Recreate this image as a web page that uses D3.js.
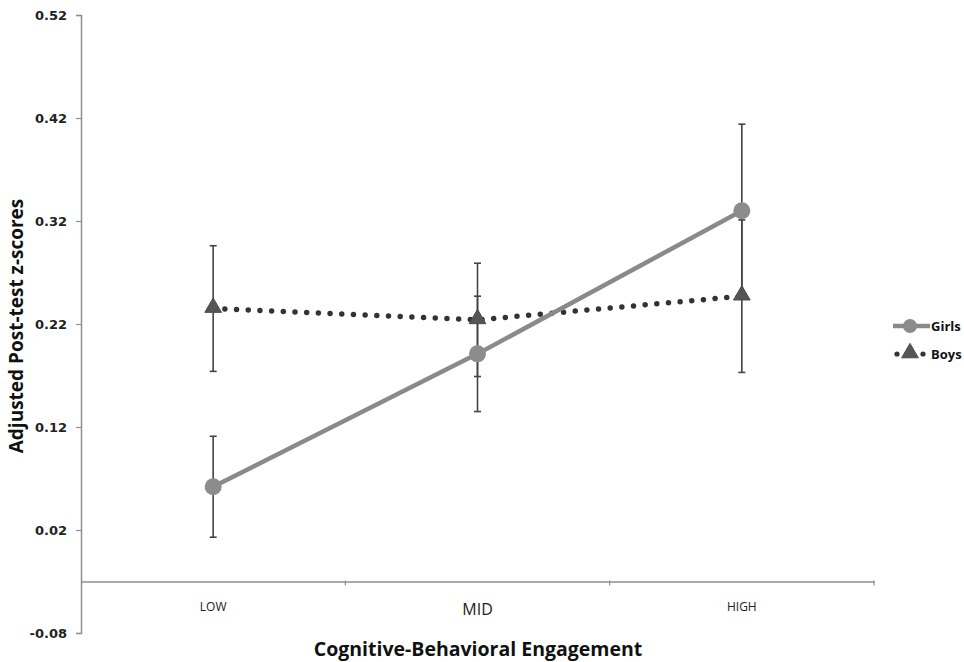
<!DOCTYPE html>
<html><head><meta charset="utf-8">
<script src="https://cdn.jsdelivr.net/npm/d3@7"></script>
<style>
body{margin:0;background:#fff;}
svg{display:block;}
</style></head>
<body>
<svg id="chart" width="964" height="662"></svg>
<script>
const categories = ["LOW", "MID", "HIGH"];
const girls = [0.062, 0.191, 0.330];
const girlsErr = [0.049, 0.056, 0.084];
const boys = [0.235, 0.224, 0.247];
const boysErr = [0.061, 0.055, 0.074];
const yTicks = [-0.08, 0.02, 0.12, 0.22, 0.32, 0.42, 0.52];
const seriesNames = ["Girls", "Boys"];

const svg = d3.select("#chart");
const narrow = "'Liberation Sans Narrow','Open Sans','Liberation Sans',sans-serif";
const plotLeft = 81, plotRight = 874, plotTop = 15, plotBottom = 633;

const x = d3.scaleBand().domain(categories).range([plotLeft, plotRight]);
const y = d3.scaleLinear().domain([-0.08, 0.52]).range([plotBottom, plotTop]);
const axisCol = "#8f8f8f";

// Y axis
const yAxis = d3.axisLeft(y).tickValues(yTicks).tickSize(5).tickPadding(9)
  .tickFormat(d => d.toFixed(2));
const gy = svg.append("g").attr("transform", `translate(${plotLeft},0)`).call(yAxis);
gy.select(".domain").attr("stroke", axisCol).attr("stroke-width", 1.5);
gy.selectAll(".tick line").attr("stroke", axisCol).attr("stroke-width", 1.2);
gy.selectAll(".tick text").attr("font-family", "'DejaVu Sans',Verdana,sans-serif")
  .attr("font-weight", "bold").attr("font-size", 13).attr("fill", "#222");

// X axis at -0.03
const xAxisY = y(-0.03);
const xAxis = d3.axisBottom(x).tickSize(0).tickPadding(19);
const gx = svg.append("g").attr("transform", `translate(0,${xAxisY})`).call(xAxis);
gx.select(".domain").attr("stroke", axisCol).attr("stroke-width", 1.5);
gx.selectAll(".tick text").attr("font-family", narrow).attr("fill", "#222")
  .attr("font-size", d => d === "MID" ? 16 : 12).attr("dy", "0.9em");
const bounds = categories.slice(1).map(c => x(c)).concat([x(categories[2]) + x.bandwidth()]);
gx.selectAll(".btick").data(bounds).enter().append("line")
  .attr("x1", d => d).attr("x2", d => d).attr("y1", -1).attr("y2", 4)
  .attr("stroke", axisCol).attr("stroke-width", 1.2);

// Titles
svg.append("text").attr("transform", `translate(23,326) rotate(-90)`)
  .attr("text-anchor", "middle").attr("font-family", narrow).attr("font-weight", "bold")
  .attr("font-size", 19).attr("fill", "#111").text("Adjusted Post-test z-scores");
svg.append("text").attr("x", 478).attr("y", 656)
  .attr("text-anchor", "middle").attr("font-family", narrow).attr("font-weight", "bold")
  .attr("font-size", 19.5).attr("fill", "#111").text("Cognitive-Behavioral Engagement");

const cx = c => x(c) + x.bandwidth() / 2;
const errCol = "#444";

function errorBars(vals, errs) {
  const g = svg.append("g");
  categories.forEach((c, i) => {
    const xc = cx(c), y1 = y(vals[i] + errs[i]), y2 = y(vals[i] - errs[i]);
    g.append("line").attr("x1", xc).attr("x2", xc).attr("y1", y1).attr("y2", y2)
      .attr("stroke", errCol).attr("stroke-width", 1.6);
    [y1, y2].forEach(yy => g.append("line").attr("x1", xc - 3.5).attr("x2", xc + 3.5)
      .attr("y1", yy).attr("y2", yy).attr("stroke", errCol).attr("stroke-width", 1.6));
  });
}
errorBars(boys, boysErr);
errorBars(girls, girlsErr);

const line = d3.line().x((d, i) => cx(categories[i])).y(d => y(d));

svg.append("path").datum(boys).attr("d", line).attr("fill", "none")
  .attr("stroke", "#333").attr("stroke-width", 5.5).attr("stroke-linecap", "round")
  .attr("stroke-dasharray", "0,11.7");
svg.append("path").datum(girls).attr("d", line).attr("fill", "none")
  .attr("stroke", "#8a8a8a").attr("stroke-width", 4.5);

const tri = d3.symbol().type(d3.symbolTriangle).size(120);
svg.selectAll(".bm").data(boys).enter().append("path")
  .attr("d", tri).attr("transform", (d, i) => `translate(${cx(categories[i])},${y(d) - 1})`)
  .attr("fill", "#555").attr("stroke", "#4a4a4a").attr("stroke-width", 1).attr("stroke-linejoin", "round");
svg.selectAll(".gm").data(girls).enter().append("circle")
  .attr("cx", (d, i) => cx(categories[i])).attr("cy", d => y(d)).attr("r", 8.5)
  .attr("fill", "#8c8c8c");

// Legend
const lg = svg.append("g");
lg.append("line").attr("x1", 893).attr("x2", 930).attr("y1", 326).attr("y2", 326)
  .attr("stroke", "#8a8a8a").attr("stroke-width", 4.5);
lg.append("circle").attr("cx", 910).attr("cy", 326).attr("r", 7).attr("fill", "#8c8c8c");
lg.selectAll(".ld").data([897, 923]).enter().append("circle")
  .attr("cx", d => d).attr("cy", 354).attr("r", 2.6).attr("fill", "#333");
lg.append("path").attr("d", tri).attr("transform", "translate(910,353)")
  .attr("fill", "#555").attr("stroke", "#4a4a4a").attr("stroke-width", 1).attr("stroke-linejoin", "round");
lg.selectAll(".lt").data(seriesNames).enter().append("text")
  .attr("x", 931).attr("y", (d, i) => 331 + i * 28)
  .attr("font-family", narrow).attr("font-weight", "bold").attr("font-size", 13)
  .attr("fill", "#111").text(d => d);
</script>
</body></html>
